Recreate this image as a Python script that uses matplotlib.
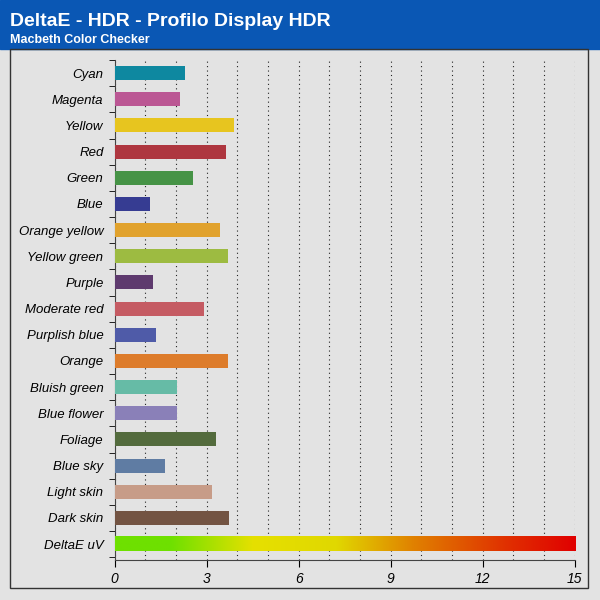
import numpy as np
import matplotlib.pyplot as plt
from matplotlib.colors import LinearSegmentedColormap
from matplotlib.patches import Rectangle

# patches from top to bottom
labels = ["Cyan", "Magenta", "Yellow", "Red", "Green", "Blue", "Orange yellow",
          "Yellow green", "Purple", "Moderate red", "Purplish blue", "Orange",
          "Bluish green", "Blue flower", "Foliage", "Blue sky", "Light skin",
          "Dark skin", "DeltaE uV"]
values = [2.28, 2.14, 3.9, 3.62, 2.55, 1.16, 3.42, 3.7, 1.24, 2.9, 1.34, 3.71,
          2.05, 2.02, 3.32, 1.63, 3.17, 3.73, 15.0]
colors = ["#0e88a0", "#bb5794", "#e7c51f", "#ae363f", "#469346", "#363c92",
          "#e1a22d", "#9dbb41", "#5e3a6e", "#c55b63", "#4f5ba8", "#dd7c2b",
          "#66bba6", "#8a80b8", "#536b3d", "#5f7ca3", "#c79c88", "#735443", None]
xticks = [0, 3, 6, 9, 12, 15]

fig = plt.figure(figsize=(6, 6), dpi=100)
fig.patch.set_facecolor("#e3e3e3")
# blue header
fig.add_artist(Rectangle((0, 0.918), 1, 0.082, transform=fig.transFigure, color="#0a57b4"))
fig.add_artist(Rectangle((0.017, 0.02), 0.963, 0.898, transform=fig.transFigure,
                         fill=False, edgecolor="#333333", lw=1))
fig.text(0.017, 0.965, "DeltaE - HDR - Profilo Display HDR", color="white",
         fontsize=14, fontweight="bold", family="Liberation Sans", va="center")
fig.text(0.017, 0.933, "Macbeth Color Checker", color="white",
         fontsize=9, fontweight="bold", family="Liberation Sans", va="center")

ax = fig.add_axes([0.191, 0.067, 0.767, 0.833])
ax.set_facecolor("#e3e3e3")
y = np.arange(len(labels))[::-1]
for yi, v, c in zip(y, values, colors):
    if c is not None:
        ax.barh(yi, v, height=0.54, color=c, zorder=3)
    else:
        cmap = LinearSegmentedColormap.from_list("g", [(0, "#6ee000"), (0.12, "#6ee000"),
                                                       (0.3, "#e6e000"), (0.48, "#e0d800"),
                                                       (0.65, "#e08000"), (0.85, "#e03000"),
                                                       (1, "#e00000")])
        grad = np.linspace(0, 1, 256).reshape(1, -1)
        ax.imshow(grad, cmap=cmap, aspect="auto", extent=(0, v, yi - 0.27, yi + 0.27), zorder=3)

ax.set_xlim(0, 15)
ax.set_ylim(-0.6, len(labels) - 0.5)
ax.set_xticks(xticks)
ax.set_xticks(np.arange(0, 16), minor=True)
ax.set_yticks(y)
ax.set_yticklabels(labels, fontstyle="italic", fontsize=9.5, family="Liberation Sans")
ax.set_yticks(np.arange(-0.5, len(labels)), minor=True)
ax.tick_params(axis="y", which="major", length=0, pad=8)
ax.tick_params(axis="y", which="minor", length=4)
ax.tick_params(axis="x", which="major", length=5)
ax.tick_params(axis="x", which="minor", length=0)
for t in ax.get_xticklabels():
    t.set_fontstyle("italic")
    t.set_fontsize(10)
    t.set_family("Liberation Sans")
ax.grid(axis="x", which="both", linestyle=(0, (1, 3)), color="#222222", lw=0.8, zorder=1)
for s in ["top", "right"]:
    ax.spines[s].set_visible(False)
ax.spines["left"].set_color("#444444")
ax.spines["bottom"].set_color("#444444")

fig.savefig("out.png", dpi=100, facecolor=fig.get_facecolor())
